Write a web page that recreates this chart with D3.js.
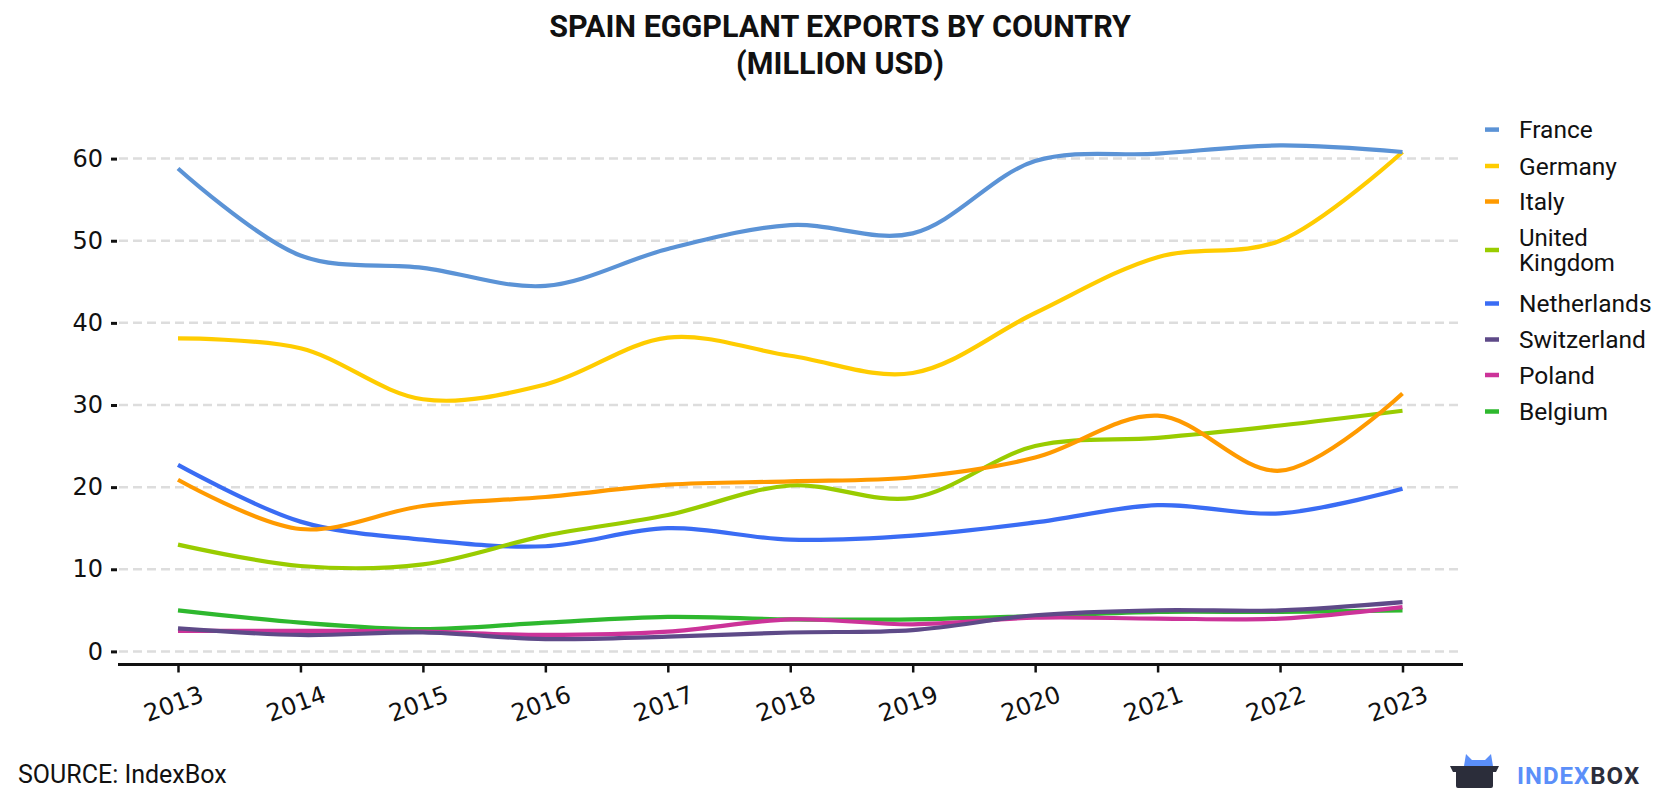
<!DOCTYPE html>
<html>
<head>
<meta charset="utf-8">
<script src="https://cdn.jsdelivr.net/npm/d3@7"></script>
<style>
  body { margin: 0; background: #fff; }
  svg { font-family: Roboto, "Noto Sans", sans-serif; }
</style>
</head>
<body>
<svg id="chart" width="1680" height="800"></svg>
<script>
const years = [2013, 2014, 2015, 2016, 2017, 2018, 2019, 2020, 2021, 2022, 2023];
const yTicks = [0, 10, 20, 30, 40, 50, 60];
const countries = ["France", "Germany", "Italy", "United Kingdom", "Netherlands", "Switzerland", "Poland", "Belgium"];
const colors = ["#5b93d6", "#ffcc00", "#ff9a00", "#99cc00", "#3a6cf4", "#5e4a88", "#cc3399", "#2eb82e"];
const france      = [58.8, 48.2, 46.7, 44.5, 49.0, 51.9, 50.9, 59.7, 60.6, 61.6, 60.8];
const germany     = [38.1, 36.9, 30.7, 32.5, 38.2, 36.0, 33.9, 41.2, 48.0, 50.0, 60.8];
const italy       = [20.9, 14.9, 17.7, 18.8, 20.3, 20.7, 21.2, 23.6, 28.7, 22.0, 31.4];
const uk          = [13.0, 10.4, 10.6, 14.1, 16.6, 20.2, 18.7, 25.0, 26.0, 27.5, 29.3];
const netherlands = [22.7, 15.8, 13.6, 12.8, 15.0, 13.6, 14.1, 15.7, 17.8, 16.8, 19.8];
const switzerland = [2.8, 2.0, 2.3, 1.5, 1.8, 2.3, 2.6, 4.4, 5.0, 5.0, 6.0];
const poland      = [2.5, 2.5, 2.4, 2.0, 2.4, 3.9, 3.3, 4.1, 4.0, 4.0, 5.4];
const belgium     = [5.0, 3.5, 2.7, 3.5, 4.2, 3.9, 3.9, 4.3, 4.8, 4.8, 5.0];
const seriesValues = [france, germany, italy, uk, netherlands, switzerland, poland, belgium];

const svg = d3.select("#chart");
const x = d3.scaleLinear().domain([2013, 2023]).range([178, 1402.5]);
const y = d3.scaleLinear().domain([0, 60]).range([651.4, 158.6]);
const tickFont = "'DejaVu Sans', sans-serif";

// Title
svg.append("text").attr("x", 840).attr("y", 37).attr("text-anchor", "middle")
  .attr("font-size", 30.5).attr("font-weight", "bold").attr("fill", "#111")
  .text("SPAIN EGGPLANT EXPORTS BY COUNTRY");
svg.append("text").attr("x", 840).attr("y", 74).attr("text-anchor", "middle")
  .attr("font-size", 30.5).attr("font-weight", "bold").attr("fill", "#111")
  .text("(MILLION USD)");

// Gridlines
svg.append("g").selectAll("line").data(yTicks).join("line")
  .attr("x1", 119).attr("x2", 1462)
  .attr("y1", d => y(d)).attr("y2", d => y(d))
  .attr("stroke", "#dddddd").attr("stroke-width", 2.5).attr("stroke-dasharray", "9,5");

// Y axis
const yAxis = svg.append("g").attr("transform", "translate(117,0)")
  .call(d3.axisLeft(y).tickValues(yTicks).tickSize(6).tickPadding(8).tickFormat(d3.format("d")));
yAxis.select(".domain").remove();
yAxis.selectAll(".tick line").attr("stroke", "#111").attr("stroke-width", 3);
yAxis.selectAll(".tick text").attr("font-size", 24).attr("fill", "#111").attr("font-family", tickFont);

// X axis
const xAxis = svg.append("g").attr("transform", "translate(0,664.5)")
  .call(d3.axisBottom(x).tickValues(years).tickSize(8).tickFormat(d3.format("d")));
xAxis.select(".domain").attr("d", "M118,0H1463").attr("stroke", "#111").attr("stroke-width", 3);
xAxis.selectAll(".tick line").attr("stroke", "#111").attr("stroke-width", 2.5);
xAxis.selectAll(".tick text")
  .attr("font-size", 24).attr("fill", "#111").attr("font-family", tickFont)
  .attr("text-anchor", "middle").attr("dy", null).attr("y", null)
  .attr("transform", "translate(-2,47) rotate(-20)");

// Lines
const line = d3.line().x((d, i) => x(years[i])).y(d => y(d)).curve(d3.curveCatmullRom.alpha(0.5));
const order = [7, 6, 5, 4, 3, 2, 1, 0];
svg.append("g").selectAll("path").data(order).join("path")
  .attr("d", k => line(seriesValues[k]))
  .attr("fill", "none").attr("stroke", k => colors[k])
  .attr("stroke-width", 4.2).attr("stroke-linecap", "butt");

// Legend
const legendY = [129.6, 166, 201.5, 250, 303.5, 339.5, 375, 411.5];
const lg = svg.append("g");
countries.forEach((c, i) => {
  lg.append("line").attr("x1", 1485).attr("x2", 1499)
    .attr("y1", legendY[i]).attr("y2", legendY[i])
    .attr("stroke", colors[i]).attr("stroke-width", 4.5);
  if (c === "United Kingdom") {
    lg.append("text").attr("x", 1519).attr("y", legendY[i] - 12.8).attr("dy", "0.35em")
      .attr("font-size", 24).attr("fill", "#111").text("United");
    lg.append("text").attr("x", 1519).attr("y", legendY[i] + 12.8).attr("dy", "0.35em")
      .attr("font-size", 24).attr("fill", "#111").text("Kingdom");
  } else {
    lg.append("text").attr("x", 1519).attr("y", legendY[i]).attr("dy", "0.35em")
      .attr("font-size", 24.5).attr("fill", "#111").text(c);
  }
});

// Source
svg.append("text").attr("x", 18).attr("y", 783).attr("font-size", 25).attr("fill", "#111")
  .text("SOURCE: IndexBox");

// Logo
const logo = svg.append("g");
logo.append("path").attr("d", "M1464,766 L1466,754 L1472,760 L1485,760 L1491,754 L1493,766 Z").attr("fill", "#5b8ff9");
logo.append("path").attr("d", "M1450,766 L1499,766 L1496,772 L1493,772 L1493,786 Q1493,788 1491,788 L1458,788 Q1456,788 1456,786 L1456,772 L1453,772 Z").attr("fill", "#2b2d3a");
logo.append("text").attr("x", 1517).attr("y", 784).attr("font-size", 24).attr("font-weight", "bold")
  .attr("fill", "#5b8ff9").attr("letter-spacing", 1)
  .text("INDEX").append("tspan").attr("fill", "#2b2d3a").text("BOX");
</script>
</body>
</html>
